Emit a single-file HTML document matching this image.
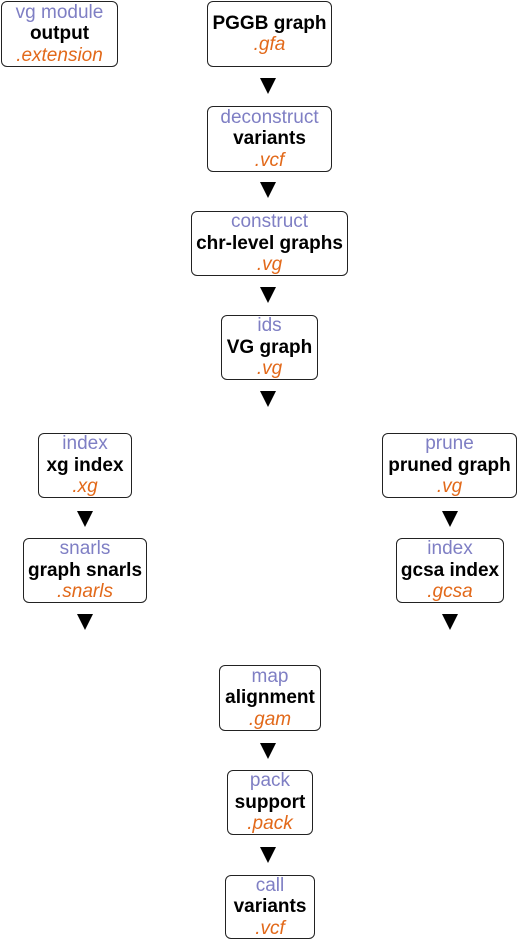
<!DOCTYPE html>
<html><head><meta charset="utf-8"><style>
html,body{margin:0;padding:0;background:#fff;width:518px;height:940px;overflow:hidden;position:relative;font-family:"Liberation Sans",Arial,sans-serif}
.b{position:absolute;box-sizing:border-box;border:1.8px solid #222;border-radius:6px;background:#fff;display:flex;flex-direction:column;justify-content:center;align-items:center;text-align:center}
.b div{line-height:21.5px;white-space:nowrap}
.p{color:#7f7fc4;font-size:19px}
.k{color:#000;font-weight:bold;font-size:19px}
.o{color:#e2691a;font-style:italic;font-size:19px}
.a{position:absolute;width:0;height:0;border-left:8px solid transparent;border-right:8px solid transparent;border-top:16px solid #000}
</style></head><body>
<div class="b" style="left:1px;top:1px;width:117px;height:66px"><div class="p">vg module</div><div class="k">output</div><div class="o">.extension</div></div>
<div class="b" style="left:207px;top:1px;width:125px;height:66px"><div class="k">PGGB graph</div><div class="o">.gfa</div></div>
<div class="a" style="left:260px;top:78px"></div>
<div class="b" style="left:207px;top:106px;width:125px;height:66px"><div class="p">deconstruct</div><div class="k">variants</div><div class="o">.vcf</div></div>
<div class="a" style="left:260px;top:182px"></div>
<div class="b" style="left:191px;top:211px;width:157px;height:65px"><div class="p">construct</div><div class="k">chr-level graphs</div><div class="o">.vg</div></div>
<div class="a" style="left:260px;top:287px"></div>
<div class="b" style="left:221px;top:315px;width:97px;height:65px"><div class="p">ids</div><div class="k">VG graph</div><div class="o">.vg</div></div>
<div class="a" style="left:260px;top:391px"></div>
<div class="b" style="left:38px;top:433px;width:94px;height:65px"><div class="p">index</div><div class="k">xg index</div><div class="o">.xg</div></div>
<div class="a" style="left:77px;top:511px"></div>
<div class="b" style="left:23px;top:538px;width:124px;height:65px"><div class="p">snarls</div><div class="k">graph snarls</div><div class="o">.snarls</div></div>
<div class="a" style="left:77px;top:614px"></div>
<div class="b" style="left:382px;top:433px;width:135px;height:65px"><div class="p">prune</div><div class="k">pruned graph</div><div class="o">.vg</div></div>
<div class="a" style="left:442px;top:511px"></div>
<div class="b" style="left:396px;top:538px;width:108px;height:65px"><div class="p">index</div><div class="k">gcsa index</div><div class="o">.gcsa</div></div>
<div class="a" style="left:442px;top:614px"></div>
<div class="b" style="left:219px;top:665px;width:102px;height:66px"><div class="p">map</div><div class="k">alignment</div><div class="o">.gam</div></div>
<div class="a" style="left:260px;top:743px"></div>
<div class="b" style="left:227px;top:770px;width:86px;height:65px"><div class="p">pack</div><div class="k">support</div><div class="o">.pack</div></div>
<div class="a" style="left:260px;top:847px"></div>
<div class="b" style="left:225px;top:875px;width:90px;height:64px"><div class="p">call</div><div class="k">variants</div><div class="o">.vcf</div></div>
</body></html>
